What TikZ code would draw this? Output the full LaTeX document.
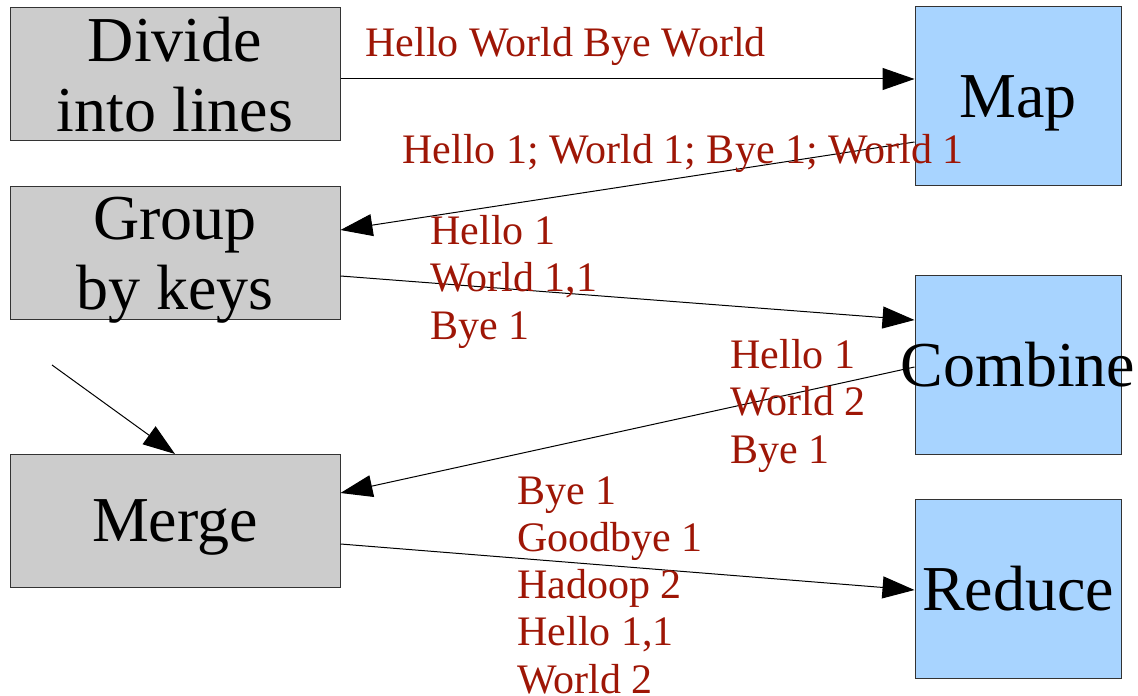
\documentclass[tikz,border=0pt]{standalone}
\usepackage{fontspec}
\setmainfont{Liberation Serif}
\usetikzlibrary{arrows.meta}
\definecolor{boxgray}{RGB}{204,204,204}
\definecolor{boxblue}{RGB}{168,212,255}
\definecolor{msgred}{RGB}{158,22,6}
\begin{document}
\begin{tikzpicture}[x=0.5pt,y=-0.5pt,
  stage/.style={draw=black!80,line width=0.5pt,fill=boxgray,minimum width=165pt,minimum height=66.5pt,inner sep=0pt,text depth=0pt,align=center,font=\fontsize{32}{35}\selectfont},
  task/.style={stage,fill=boxblue,minimum width=103pt,minimum height=89.5pt},
  msg/.style={text=msgred,inner sep=0pt,align=left,anchor=base west,font=\fontsize{21}{23.6}\selectfont},
  flow/.style={line width=0.5pt,-{Triangle[length=16pt,width=11pt]}}]
  \useasboundingbox (0,0) rectangle (1138,695);%

  \node[stage] (divide) at (175,74.5) {Divide\\into lines};
  \node[stage] (group) at (175,253) {Group\\by keys};
  \node[stage] (merge) at (175,521) {Merge};

  \node[task] (map) at (1018,96.5) {Map};
  \node[task] (combine) at (1018,364.5) {\makebox[0pt]{Combine}};
  \node[task] (reduce) at (1018,588.5) {Reduce};

  \coordinate (feed) at (52,365);

  \draw[flow] ([yshift=-2.25pt]divide.east) -- ([yshift=8.75pt]map.west);
  \draw[flow] ([yshift=-22.75pt]map.west) -- ([yshift=11.5pt]group.east);
  \draw[flow] ([yshift=-11.5pt]group.east) -- ([yshift=22.25pt]combine.west);
  \draw[flow] ([yshift=-1.25pt]combine.west) -- ([yshift=14pt]merge.east);
  \draw[flow] ([yshift=-11.5pt]merge.east) -- ([yshift=-0.75pt]reduce.west);
  \draw[flow] (feed) -- (merge.north);

  % multi-line texts sit on their last baseline
  \node[msg] (lines) at (365,57) {Hello World Bye World};
  \node[msg] (pairs) at (402,163) {Hello 1; World 1; Bye 1; World 1};
  \node[msg] (grouped) at (430,339) {Hello 1\\World 1,1\\Bye 1};
  \node[msg] (combined) at (730,463) {Hello 1\\World 2\\Bye 1};
  \node[msg] (merged) at (517,693) {Bye 1\\Goodbye 1\\Hadoop 2\\Hello 1,1\\World 2};
\end{tikzpicture}
\end{document}
